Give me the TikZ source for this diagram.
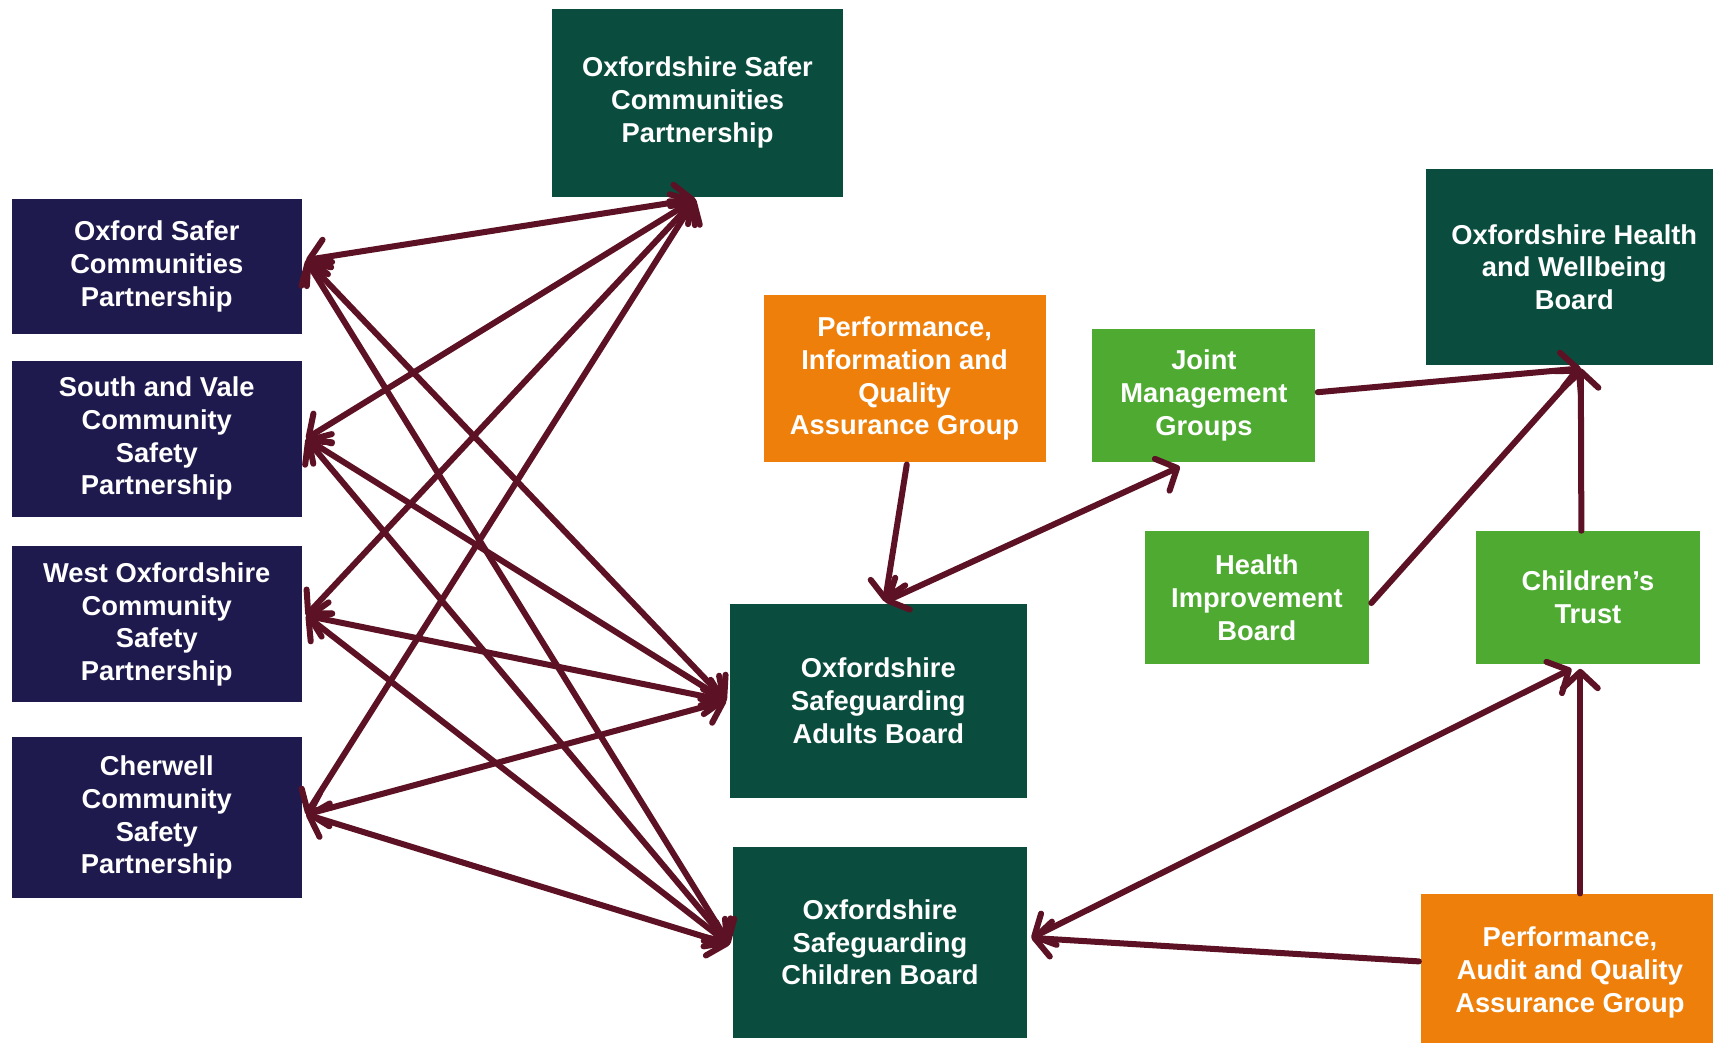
\documentclass[tikz,border=0pt]{standalone}
\usepackage{fontspec}
\setmainfont{Liberation Sans}
\usetikzlibrary{arrows.meta,calc}
\definecolor{navyc}{RGB}{31,26,77}
\definecolor{dgreen}{RGB}{10,77,62}
\definecolor{orangec}{RGB}{238,127,11}
\definecolor{lgreen}{RGB}{79,170,50}
\definecolor{arrowc}{RGB}{92,18,36}
\tikzset{
  box/.style={inner sep=0pt, align=center, text=white,
    font=\fontsize{25}{30}\selectfont\bfseries},
  navybox/.style={box, fill=navyc},
  dgbox/.style={box, fill=dgreen},
  orbox/.style={box, fill=orangec},
  lgbox/.style={box, fill=lgreen},
  link/.style={draw=arrowc, line width=5.5pt, line cap=round, line join=round},
  >={Straight Barb[length=15pt,width=32pt,round]}
}
\begin{document}
\begin{tikzpicture}[x=1pt,y=-1pt]
\useasboundingbox (0,0) rectangle (1568,954);
\clip (0,0) rectangle (1568,954);
\fill[white] (0,0) rectangle (1568,954);
% boxes
\node[dgbox, minimum width=267pt, minimum height=172pt] (oscp) at (638.5,94) {Oxfordshire Safer\\Communities\\Partnership};
\node[navybox, minimum width=265pt, minimum height=124pt] (oxf) at (143.5,244) {Oxford Safer\\Communities\\Partnership};
\node[navybox, minimum width=265pt, minimum height=143pt] (sv) at (143.5,401.5) {South and Vale\\Community\\Safety\\Partnership};
\node[navybox, minimum width=265pt, minimum height=143pt] (wo) at (143.5,571.5) {West Oxfordshire\\Community\\Safety\\Partnership};
\node[navybox, minimum width=265pt, minimum height=147pt] (ch) at (143.5,748.5) {Cherwell\\Community\\Safety\\Partnership};
\node[orbox, minimum width=258pt, minimum height=153pt] (piqag) at (828,346.5) {Performance,\\Information and\\Quality\\Assurance Group};
\node[lgbox, minimum width=204pt, minimum height=122pt] (jmg) at (1102,362) {Joint\\Management\\Groups};
\node[dgbox, minimum width=272pt, minimum height=179pt] (hwb) at (1441,244.5) {Oxfordshire Health\\and Wellbeing\\Board};
\node[lgbox, minimum width=205pt, minimum height=122pt] (hib) at (1150.5,547) {Health\\Improvement\\Board};
\node[lgbox, minimum width=205pt, minimum height=122pt] (ct) at (1453.5,547) {Children’s\\Trust};
\node[dgbox, minimum width=272pt, minimum height=177pt] (osab) at (804,641.5) {Oxfordshire\\Safeguarding\\Adults Board};
\node[dgbox, minimum width=269pt, minimum height=175pt] (oscb) at (805.5,862.5) {Oxfordshire\\Safeguarding\\Children Board};
\node[orbox, minimum width=272pt, minimum height=144pt] (paqag) at (1437,890) {Performance,\\Audit and Quality\\Assurance Group};
% connection points
\coordinate (oscpin) at ($(oscp.south)+(-2,2)$);
\coordinate (oxfin) at ($(oxf.east)+(4,-6)$);
\coordinate (svin) at ($(sv.east)+(4,0)$);
\coordinate (woin) at ($(wo.east)+(4,-8)$);
\coordinate (chin) at ($(ch.east)+(4,-3)$);
\coordinate (osabin) at ($(osab.west)+(-3,0)$);
\coordinate (oscbin) at ($(oscb.west)+(-3,2)$);
\coordinate (osabtop) at ($(osab.north)+(6,-2)$);
\coordinate (jmgbot) at ($(jmg.south)+(-22,4)$);
\coordinate (hwbin) at ($(hwb.south)+(6,3)$);
\coordinate (ctin) at ($(ct.south)+(-7,4)$);
\coordinate (oscbout) at ($(oscb.east)+(4,-4)$);
% CSPs to OSCP
\draw[link,<->] (oscpin) -- (oxfin);
\draw[link,<->] (oscpin) -- (svin);
\draw[link,<->] (oscpin) -- (woin);
\draw[link,<->] (oscpin) -- (chin);
% CSPs to OSAB
\draw[link,<->] (oxfin) -- (osabin);
\draw[link,<->] (svin) -- (osabin);
\draw[link,<->] (woin) -- (osabin);
\draw[link,<->] (chin) -- (osabin);
% CSPs to OSCB
\draw[link,<->] (oxfin) -- (oscbin);
\draw[link,<->] (svin) -- (oscbin);
\draw[link,<->] (woin) -- (oscbin);
\draw[link,<->] (chin) -- (oscbin);
% right part
\draw[link,->] ($(piqag.south)+(2,2)$) -- (osabtop);
\draw[link,<->] (osabtop) -- (jmgbot);
\draw[link,->] ($(jmg.east)+(2,-3)$) -- (hwbin);
\draw[link,->] ($(hib.east)+(2,5)$) -- (hwbin);
\draw[link,->] ($(ct.north)+(-6,0)$) -- (hwbin);
\draw[link,->] (paqag.north -| ctin) -- (ctin);
\draw[link,->] ($(paqag.west)+(-2,-10)$) -- (oscbout);
\draw[link,<->] (oscbout) -- ($(ctin)+(-8,0)$);
\end{tikzpicture}
\end{document}
